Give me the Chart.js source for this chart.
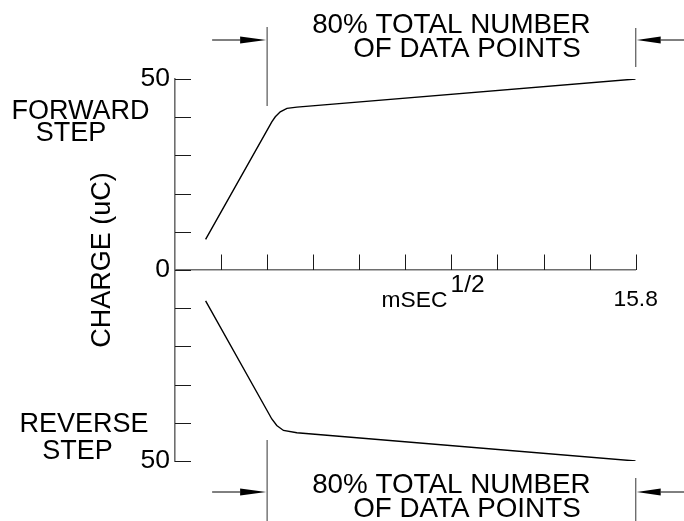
<!DOCTYPE html>
<html>
<head>
<meta charset="utf-8">
<script src="https://cdn.jsdelivr.net/npm/chart.js@4/dist/chart.umd.min.js"></script>
<style>
  html, body { margin: 0; padding: 0; background: #fff; }
  #wrap { width: 684px; height: 521px; }
</style>
</head>
<body>
<div id="wrap"><canvas id="c" width="684" height="521"></canvas></div>
<script>
// Charge vs square root of time, forward and reverse potential steps
const forwardX = [1.05, 3.32, 3.44, 3.61, 3.84, 4.18, 15.8];
const forwardY = [8.0, 38.8, 40.1, 41.4, 42.3, 42.65, 50];
const reverseX = [1.05, 3.32, 3.49, 3.72, 4.18, 15.8];
const reverseY = [-8.1, -39.0, -40.7, -42.0, -42.6, -50];

// Axis tick labels (charge magnitude shown on both halves)
const yLabelValues = [50, 0, -50];
const yLabelTexts = ['50', '0', '50'];
const xLabelValues = [15.8];
const xLabelTexts = ['15.8'];

// Fitting window: last 80% of the data points
const windowStart = 3.16;
const windowEnd = 15.8;
const windowText = ['80% TOTAL NUMBER', 'OF DATA POINTS'];

const FONT = '"Liberation Sans", Arial, Helvetica, sans-serif';
const AXIS_COLOR = '#6e6e6e';

function toPoints(xs, ys) {
  return xs.map((v, i) => ({ x: v, y: ys[i] }));
}

function labelFor(values, texts, v) {
  for (let i = 0; i < values.length; i++) {
    if (Math.abs(values[i] - v) < 1e-6) return texts[i];
  }
  return '';
}

function arrow(ctx, fromX, toX, yy, headLen) {
  const dir = Math.sign(toX - fromX);
  ctx.beginPath();
  ctx.moveTo(fromX, yy);
  ctx.lineTo(toX - dir * headLen, yy);
  ctx.stroke();
  ctx.beginPath();
  ctx.moveTo(toX, yy);
  ctx.lineTo(toX - dir * headLen, yy - 3.5);
  ctx.lineTo(toX - dir * headLen, yy + 3.5);
  ctx.closePath();
  ctx.fill();
}

const overlay = {
  id: 'overlay',
  afterDraw(chart) {
    const { ctx, chartArea, scales } = chart;
    const xs = scales.x, ys = scales.y;
    const left = chartArea.left;
    const y0 = ys.getPixelForValue(0);
    ctx.save();

    // inward tick marks
    ctx.strokeStyle = '#1a1a1a';
    ctx.lineWidth = 1;
    ys.ticks.forEach(t => {
      const py = Math.round(ys.getPixelForValue(t.value)) + 0.5;
      ctx.beginPath();
      ctx.moveTo(left, py);
      ctx.lineTo(left + 16, py);
      ctx.stroke();
    });
    xs.ticks.forEach(t => {
      if (t.value <= 0) return;
      const px = Math.round(xs.getPixelForValue(t.value)) + 0.5;
      ctx.beginPath();
      ctx.moveTo(px, y0);
      ctx.lineTo(px, y0 - 15.5);
      ctx.stroke();
    });

    // fitting-window brackets
    const xa = xs.getPixelForValue(windowStart);
    const xb = xs.getPixelForValue(windowEnd);
    ctx.strokeStyle = AXIS_COLOR;
    ctx.lineWidth = 1.4;
    [[27, 106, 28, 67], [440, 521, 478, 521]].forEach(([a1, a2, b1, b2]) => {
      ctx.beginPath();
      ctx.moveTo(xa, a1); ctx.lineTo(xa, a2);
      ctx.moveTo(xb, b1); ctx.lineTo(xb, b2);
      ctx.stroke();
    });
    ctx.strokeStyle = '#000';
    ctx.fillStyle = '#000';
    ctx.lineWidth = 1;
    [40, 492].forEach(ay => {
      arrow(ctx, xa - 55, xa - 1, ay, 26);
      arrow(ctx, chart.width, xb + 1, ay, 24);
    });

    ctx.font = '27.8px ' + FONT;
    ctx.textBaseline = 'alphabetic';
    ctx.textAlign = 'left';
    [[32.5, 56.8], [492.5, 516.8]].forEach(([b1, b2]) => {
      ctx.fillText(windowText[0], xa + 45, b1);
      ctx.fillText(windowText[1], xa + 86, b2);
    });

    // step labels
    ctx.font = '27px ' + FONT;
    ctx.textAlign = 'center';
    ctx.fillText('FORWARD', 80.5, 118.5);
    ctx.fillText('STEP', 71, 140.8);
    ctx.fillText('REVERSE', 84, 431.8);
    ctx.fillText('STEP', 77.5, 459.2);

    // y-axis title
    ctx.save();
    ctx.translate(110, 260);
    ctx.rotate(-Math.PI / 2);
    ctx.fillText('CHARGE (uC)', 0, 0);
    ctx.restore();

    // x-axis title with superscript
    ctx.textAlign = 'left';
    ctx.font = '22.8px ' + FONT;
    ctx.fillText('mSEC', 381.5, 306.8);
    ctx.font = '24.5px ' + FONT;
    ctx.fillText('1/2', 450.5, 291.8);

    ctx.restore();
  }
};

new Chart(document.getElementById('c'), {
  type: 'line',
  data: {
    datasets: [
      { label: 'Forward step', data: toPoints(forwardX, forwardY) },
      { label: 'Reverse step', data: toPoints(reverseX, reverseY) }
    ]
  },
  options: {
    responsive: false,
    devicePixelRatio: 1,
    animation: false,
    events: [],
    layout: { padding: { left: 0, right: 48.3, top: 79, bottom: 60 } },
    elements: {
      line: { borderColor: '#000', borderWidth: 1.4, tension: 0, fill: false },
      point: { radius: 0 }
    },
    plugins: {
      legend: { display: false },
      tooltip: { enabled: false }
    },
    scales: {
      x: {
        type: 'linear',
        position: { y: 0 },
        min: 0,
        max: 15.8,
        grid: { display: false, drawTicks: false },
        border: { display: true, color: AXIS_COLOR, width: 1.6 },
        ticks: {
          stepSize: 1.58,
          autoSkip: false,
          maxRotation: 0,
          padding: 16,
          color: '#000',
          font: { family: FONT, size: 22.8 },
          callback: v => labelFor(xLabelValues, xLabelTexts, v)
        }
      },
      y: {
        type: 'linear',
        position: 'left',
        min: -50,
        max: 50,
        grid: { display: false, drawTicks: false },
        border: { display: true, color: AXIS_COLOR, width: 1.6 },
        afterFit: s => { s.width = 175; },
        ticks: {
          stepSize: 10,
          padding: 5,
          color: '#000',
          font: { family: FONT, size: 26.5 },
          callback: v => labelFor(yLabelValues, yLabelTexts, v)
        }
      }
    }
  },
  plugins: [overlay]
});
</script>
</body>
</html>
